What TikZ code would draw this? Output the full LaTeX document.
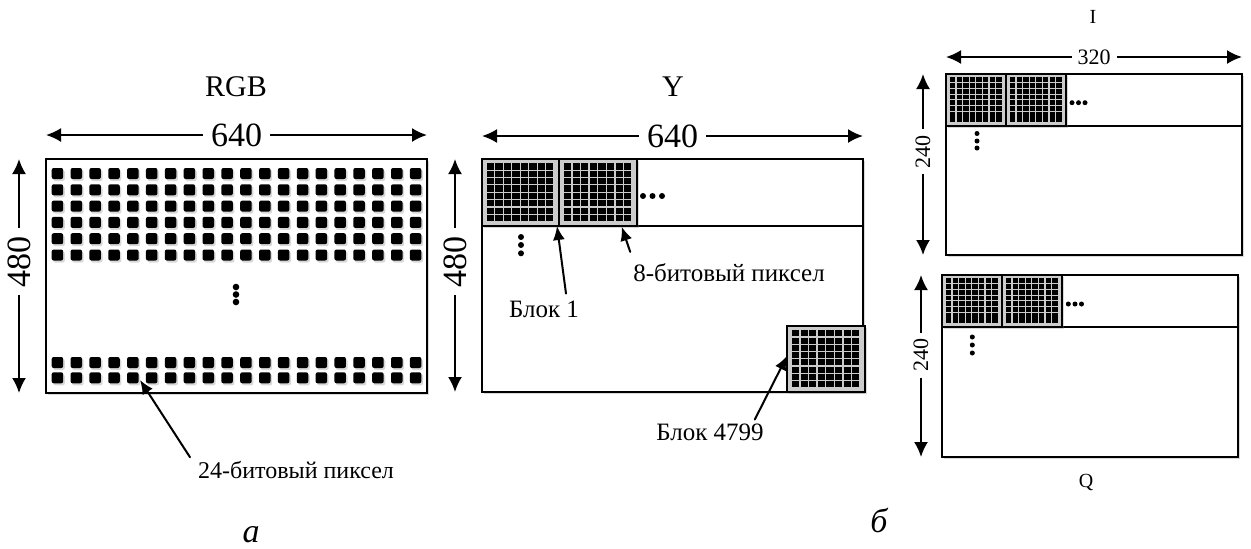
\documentclass[tikz,border=0pt]{standalone}
\usepackage{fontspec}
\setmainfont{Liberation Serif}
\usetikzlibrary{arrows.meta,shadows}

% 8x8 block of pixels: left, top, width, height
\newcommand\pixblock[4]{%
  \draw[blockframe] (#1,#2) rectangle ++(#3,#4);
  \foreach \bx in {0,...,7}
    \foreach \by in {0,...,7}
      \fill (#1+0.065*#3+\bx*0.11*#3, #2+0.065*#4+\by*0.11*#4)
        rectangle ++(0.093*#3, 0.093*#4);
}

\begin{document}
\begin{tikzpicture}[x=0.5pt, y=-0.5pt, line cap=round,
  font=\fontsize{12.5}{14}\selectfont,
  frame/.style={draw=black, line width=1pt, fill=white,
    drop shadow={opacity=0.3, shadow xshift=1.2pt, shadow yshift=-1.2pt}},
  blockframe/.style={draw=black, line width=0.7pt, fill=blockGray,
    drop shadow={opacity=0.3, shadow xshift=1pt, shadow yshift=-1pt}},
  pixel/.style={fill=black, rounded corners=1pt,
    drop shadow={opacity=0.3, shadow xshift=0.8pt, shadow yshift=-1pt}},
  dim/.style={{Latex[length=7.5pt,width=7pt]}-{Latex[length=7.5pt,width=7pt]}, line width=1pt},
  pointer/.style={-{Latex[length=7pt,width=6pt]}, line width=1pt},
  title/.style={font=\fontsize{15}{17}\selectfont},
  biglabel/.style={fill=white, inner sep=4pt, font=\fontsize{17}{19}\selectfont},
  smalllabel/.style={fill=white, inner sep=3pt, font=\fontsize{11}{13}\selectfont}]
  \definecolor{blockGray}{HTML}{CCCCCC}
  \useasboundingbox (0,0) rectangle (1251,548);

  % --- RGB ---
  \node[title] (rgbtitle) at (236,87) {RGB};
  \draw[frame] (46,159) rectangle (427,393);
  \foreach \i in {0,...,19}{
    \foreach \j in {0,...,5}
      \fill[pixel] (51.7+18.85*\i, 168+16.3*\j) rectangle ++(11.5,11);
    \foreach \j in {0,1}
      \fill[pixel] (51.7+18.85*\i, 357+15.3*\j) rectangle ++(11.5,11);
  }
  \foreach \y in {287,294.5,302}
    \fill (236,\y) circle (1.65pt);
  \coordinate (rgbW) at (46,135);
  \coordinate (rgbE) at (427,135);
  \draw[dim] (rgbW) -- node[biglabel] (rgbwidth) {640} (rgbE);
  \coordinate (rgbN) at (19,159);
  \coordinate (rgbS) at (19,393);
  \draw[dim] (rgbN) -- node[biglabel, rotate=90, pos=0.44] (rgbheight) {480} (rgbS);
  \coordinate (pix24tip) at (140,380);
  \node[font=\fontsize{12}{14}\selectfont] (pix24) at (296,470) {24-битовый пиксел};
  \draw[pointer] ([shift={(-1,3)}]pix24.north west) -- (pix24tip);

  % --- Y ---
  \node[title] (ytitle) at (673,87) {Y};
  \draw[frame] (482,159) rectangle (863,392);
  \draw[line width=1pt] (482,226) -- (863,226);
  \pixblock{482}{159}{77}{67}
  \pixblock{559}{159}{78}{67}
  \pixblock{787}{326}{78}{66}
  \foreach \x in {643,652.5,662}
    \fill (\x,196) circle (1.5pt);
  \foreach \y in {237,245,253.3}
    \fill (521,\y) circle (1.5pt);
  \coordinate (yW) at (482,136);
  \coordinate (yE) at (863,136);
  \draw[dim] (yW) -- node[biglabel] (ywidth) {640} (yE);
  \coordinate (yN) at (455,159);
  \coordinate (yS) at (455,392);
  \draw[dim] (yN) -- node[biglabel, rotate=90, pos=0.44] (yheight) {480} (yS);
  \coordinate (blok1tip) at (557,226);
  \node (blok1) at (544,309) {Блок 1};
  \draw[pointer] ([shift={(22,0)}]blok1.north) -- (blok1tip);
  \coordinate (bit8tip) at (621.7,226.7);
  \node (bit8) at (729,273) {8-битовый пиксел};
  \draw[pointer] ([shift={(4,-5)}]bit8.north west) -- (bit8tip);
  \coordinate (blok4799tip) at (787,356);
  \node (blok4799) at (710,432) {Блок 4799};
  \draw[pointer] ([shift={(-16,3)}]blok4799.north east) -- (blok4799tip);

  % --- I ---
  \node[font=\fontsize{10}{12}\selectfont] (ititle) at (1093,17) {I};
  \draw[frame] (946,74) rectangle (1242,255);
  \draw[line width=1pt] (946,126) -- (1242,126);
  \pixblock{946}{74}{60}{52}
  \pixblock{1006}{74}{60}{52}
  \foreach \x in {1072,1078.5,1085}
    \fill (\x,102.7) circle (1.25pt);
  \foreach \y in {133.5,141,148}
    \fill (977,\y) circle (1.25pt);
  \coordinate (iW) at (946,57);
  \coordinate (iE) at (1242,57);
  \draw[dim] (iW) -- node[smalllabel] (iwidth) {320} (iE);
  \coordinate (iN) at (923,74);
  \coordinate (iS) at (923,255);
  \draw[dim] (iN) -- node[smalllabel, rotate=90, pos=0.43] (iheight) {240} (iS);

  % --- Q ---
  \node[font=\fontsize{10}{12}\selectfont] (qtitle) at (1086,482) {Q};
  \draw[frame] (942,275) rectangle (1238,457);
  \draw[line width=1pt] (942,327) -- (1238,327);
  \pixblock{942}{275}{60}{52}
  \pixblock{1002}{275}{60}{52}
  \foreach \x in {1068.3,1075,1081.5}
    \fill (\x,304) circle (1.25pt);
  \foreach \y in {337,345,353}
    \fill (972.3,\y) circle (1.25pt);
  \coordinate (qN) at (921,275);
  \coordinate (qS) at (921,457);
  \draw[dim] (qN) -- node[smalllabel, rotate=90, pos=0.44] (qheight) {240} (qS);

  % --- sub-captions ---
  \node[font=\fontsize{17}{19}\selectfont\itshape] (suba) at (251,535) {а};
  \node[font=\fontsize{17}{19}\selectfont\itshape] (subb) at (879,520) {б};
\end{tikzpicture}
\end{document}
